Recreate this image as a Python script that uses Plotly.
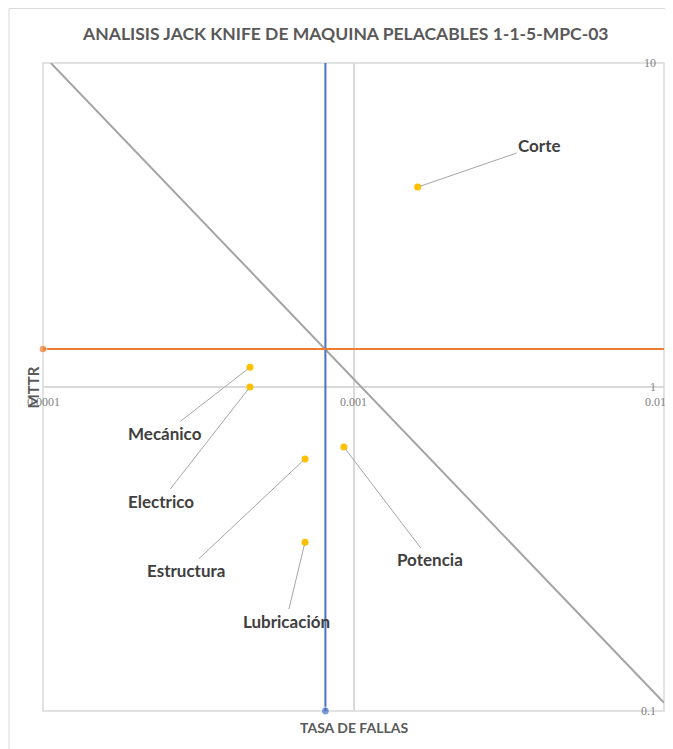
import numpy as np
import plotly.graph_objects as go

# Puntos del análisis Jack Knife (tasa de fallas vs MTTR)
categorias = ["Corte", "Mecánico", "Electrico", "Estructura", "Lubricación", "Potencia"]
tasa_fallas = [0.00161, 0.000464, 0.000464, 0.000698, 0.000698, 0.000931]
mttr = [4.14, 1.15, 1.0, 0.60, 0.332, 0.653]

# Límites (promedios) y línea de tiempo de parada constante
limite_tasa = 0.000812
limite_mttr = 1.31
diag_x = [0.000106, 0.01]
diag_y = [10, 0.106]

x_ticks = [0.0001, 0.001, 0.01]
x_ticktext = ["0.0001", "0.001", "0.01"]
y_ticks = [0.1, 1, 10]
y_ticktext = ["0.1", "1", "10"]

# desplazamiento de las etiquetas (px) respecto al punto
offsets = {
    "Corte": (122, -42),
    "Mecánico": (-85, 66),
    "Electrico": (-89, 114),
    "Estructura": (-119, 112),
    "Lubricación": (-19, 79),
    "Potencia": (86, 113),
}

fig = go.Figure()

# diagonal
fig.add_trace(go.Scatter(x=diag_x, y=diag_y, mode="lines",
                         line=dict(color="#A5A5A5", width=2), hoverinfo="skip"))
# línea vertical (tasa de fallas límite)
fig.add_trace(go.Scatter(x=[limite_tasa, limite_tasa], y=[y_ticks[0], y_ticks[-1]],
                         mode="lines+markers", line=dict(color="#4472C4", width=2),
                         marker=dict(size=[8, 0], color="#4472C4"), cliponaxis=False))
# línea horizontal (MTTR límite)
fig.add_trace(go.Scatter(x=[x_ticks[0], x_ticks[-1]], y=[limite_mttr, limite_mttr],
                         mode="lines+markers", line=dict(color="#ED7D31", width=2),
                         marker=dict(size=[8, 0], color="#ED7D31"), cliponaxis=False))
# puntos
fig.add_trace(go.Scatter(x=tasa_fallas, y=mttr, mode="markers",
                         marker=dict(size=7, color="#FFC000"), cliponaxis=False))

for cat, xv, yv in zip(categorias, tasa_fallas, mttr):
    ax, ay = offsets[cat]
    fig.add_annotation(x=np.log10(xv), y=np.log10(yv), text="<b>" + cat + "</b>",
                       showarrow=True, arrowhead=0, arrowwidth=1, arrowcolor="#A6A6A6",
                       ax=ax, ay=ay, standoff=3,
                       font=dict(family="Lato", size=17, color="#404040"))

tick_font = dict(family="Liberation Serif", size=12, color="#7F7F7F")
# etiquetas de los ejes (el eje X cruza en MTTR = 1, el eje Y en 0.01)
for v, t in zip(x_ticks, x_ticktext):
    fig.add_annotation(x=np.log10(v), y=0, text=t, showarrow=False,
                       xanchor="center" if v != x_ticks[-1] else "right", xshift=0 if v != x_ticks[-1] else 4,
                       yanchor="top", yshift=-6, font=tick_font)
for v, t in zip(y_ticks, y_ticktext):
    fig.add_annotation(xref="paper", x=1, y=np.log10(v), text=t, showarrow=False,
                       xanchor="right", xshift=-6, yanchor="middle", font=tick_font)

# títulos de ejes
fig.add_annotation(text="<b>TASA DE FALLAS</b>", xref="paper", yref="paper", x=0.5, y=-0.025,
                   xanchor="center", yanchor="middle", showarrow=False,
                   font=dict(family="Lato", size=14, color="#595959"))
fig.add_annotation(text="<b>MTTR</b>", xref="paper", yref="paper", x=-0.0153, y=0.5,
                   xanchor="center", yanchor="middle", textangle=-90, showarrow=False,
                   font=dict(family="Lato", size=15, color="#595959"))

# marco del gráfico y del área de trazado
fig.add_shape(type="rect", xref="paper", yref="paper", x0=0, x1=1, y0=0, y1=1,
              line=dict(color="#D9D9D9", width=1.5), layer="below")
fig.add_shape(type="rect", xref="paper", yref="paper", x0=-0.0548, x1=1.013, y0=-0.08, y1=1.084,
              line=dict(color="#D9D9D9", width=1))

fig.update_layout(
    width=665, height=741, autosize=False,
    margin=dict(l=35, r=9, t=55, b=38),
    paper_bgcolor="white", plot_bgcolor="white",
    showlegend=False,
    title=dict(text="<b>ANALISIS JACK KNIFE DE MAQUINA PELACABLES 1-1-5-MPC-03</b>",
               x=0.508, xanchor="center", y=0.965, yanchor="middle",
               font=dict(family="Lato", size=17.5, color="#595959")),
    xaxis=dict(type="log", range=[-4, -2], tickvals=x_ticks, showticklabels=False,
               showline=False, ticks="",
               showgrid=True, gridcolor="#D9D9D9", gridwidth=1.5, zeroline=False),
    yaxis=dict(type="log", range=[-1, 1], tickvals=y_ticks, showticklabels=False,
               ticks="", showgrid=True, gridcolor="#D9D9D9", gridwidth=1.5, zeroline=False),
)

fig.write_html("out.html")
